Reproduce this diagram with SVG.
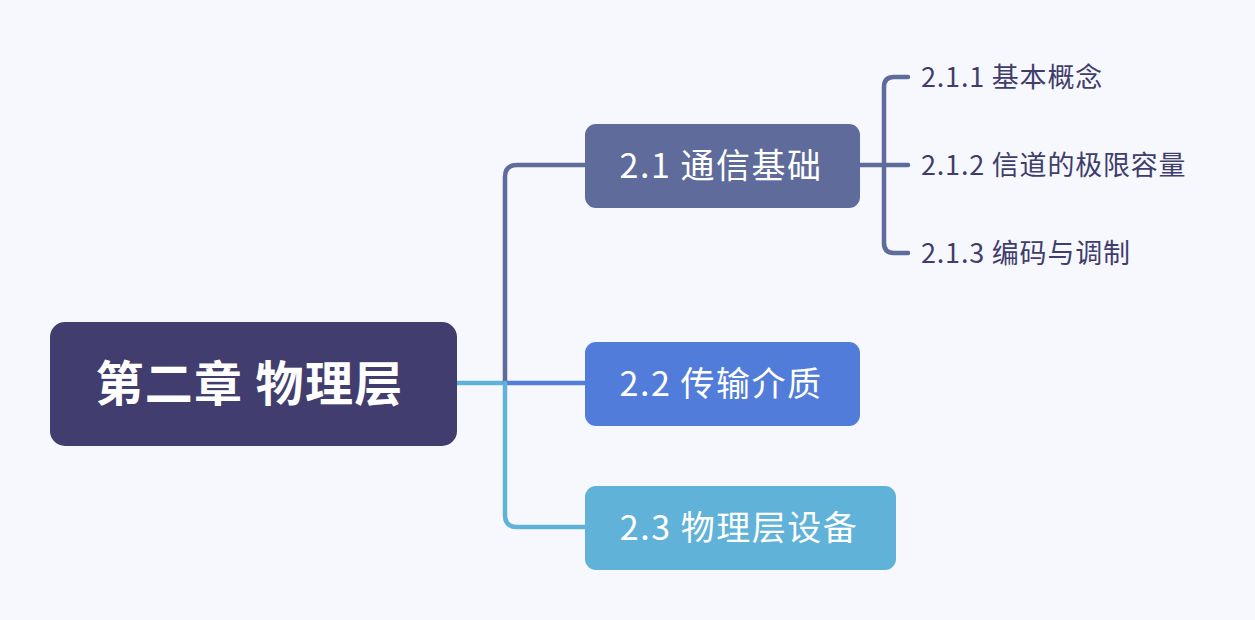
<svg xmlns="http://www.w3.org/2000/svg" width="1255" height="620" viewBox="0 0 1255 620">
<style>
.t{font-family:"Noto Sans CJK SC","Microsoft YaHei",sans-serif;fill:#ffffff;text-anchor:middle}
.n{font-size:34px;letter-spacing:1.5px}
.s{font-family:"Noto Sans CJK SC",sans-serif;fill:#3f3d6c;font-size:27px;letter-spacing:0.8px}
.c{fill:none;stroke-width:4.5;stroke-linecap:round}
</style>
<rect width="1255" height="620" fill="#f7f8fd"/>
<g id="connectors">
<path class="c" d="M457 383 H505" stroke="#60b2d8"/>
<path class="c" d="M505 383 V177 Q505 165 517 165 H585" stroke="#5e6b9b"/>
<path class="c" d="M505 383 H585" stroke="#527cd9"/>
<path class="c" d="M505 383 V515 Q505 527 517 527 H585" stroke="#60b2d8"/>
<path class="c" d="M860 165 H908" stroke="#5e6b9b"/>
<path class="c" d="M908 77 H894 Q884 77 884 87 V243 Q884 253 894 253 H908" stroke="#5e6b9b"/>
</g>
<g id="root">
<rect x="50" y="322" width="407" height="124" rx="15" fill="#413d6e"/>
<text class="t" x="249.5" y="401" font-size="48" font-weight="bold" letter-spacing="1.3">第二章 物理层</text>
</g>
<g id="n21">
<rect x="585" y="124" width="275" height="84" rx="11" fill="#5e6b9b"/>
<text class="t n" x="721" y="178">2.1 通信基础</text>
</g>
<g id="n22">
<rect x="585" y="342" width="275" height="84" rx="11" fill="#527cd9"/>
<text class="t n" x="721" y="396">2.2 传输介质</text>
</g>
<g id="n23">
<rect x="585" y="486" width="311" height="84" rx="11" fill="#60b2d8"/>
<text class="t n" x="739" y="540">2.3 物理层设备</text>
</g>
<g id="n211"><text class="s" x="921" y="87">2.1.1 基本概念</text></g>
<g id="n212"><text class="s" x="921" y="175">2.1.2 信道的极限容量</text></g>
<g id="n213"><text class="s" x="921" y="263">2.1.3 编码与调制</text></g>
</svg>
